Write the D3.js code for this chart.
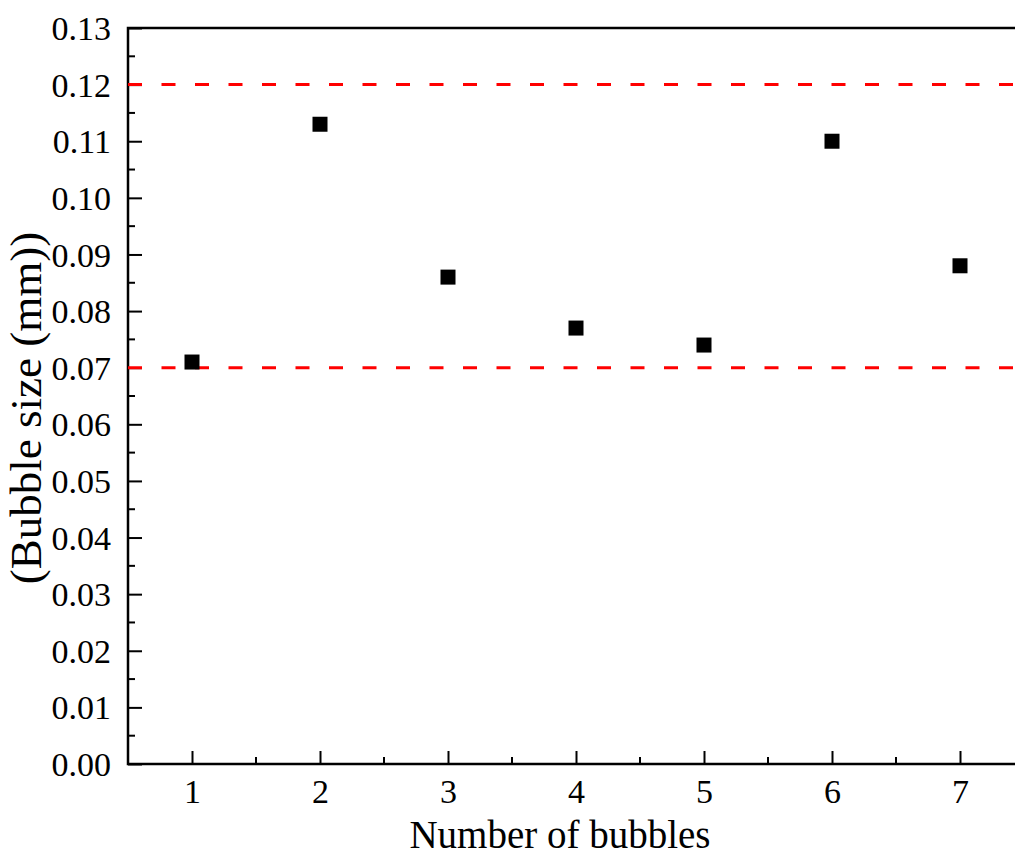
<!DOCTYPE html>
<html>
<head>
<meta charset="utf-8">
<script src="https://cdn.jsdelivr.net/npm/d3@7"></script>
<style>
  body { margin: 0; background: #fff; }
  svg text { font-family: "Liberation Serif", "Times New Roman", serif; fill: #000; }
  .tick text { font-size: 34px !important; }
</style>
</head>
<body>
<div id="canvas"></div>
<script>
// data
var bubbleCounts = [1, 2, 3, 4, 5, 6, 7];
var bubbleSizes = [0.071, 0.113, 0.086, 0.077, 0.074, 0.110, 0.088];
var limitLines = [0.07, 0.12];
var yTickValues = [0, 0.01, 0.02, 0.03, 0.04, 0.05, 0.06, 0.07, 0.08, 0.09, 0.10, 0.11, 0.12, 0.13];
var xTickValues = [1, 2, 3, 4, 5, 6, 7];

var outerWidth = 1015, outerHeight = 855;
var m = {t:28, r:0, b:91, l:128};
var w = outerWidth - m.l - m.r,
    h = outerHeight - m.t - m.b;

var svg = d3.select('#canvas')
    .append('svg')
    .attr('width', outerWidth)
    .attr('height', outerHeight);

var plot = svg.append('g')
    .attr('transform', 'translate(' + m.l + ',' + m.t + ')');

var x = d3.scaleLinear().domain([0.5, 7.5]).range([0, 896]);
var y = d3.scaleLinear().domain([0, 0.13]).range([h, 0]);

// minor ticks
var yMinor = d3.range(0.005, 0.13, 0.01);
var xMinor = d3.range(1.5, 7.5, 1);

plot.selectAll('.yminor').data(yMinor).enter().append('line')
    .attr('x1', 0).attr('x2', 7)
    .attr('y1', function(d){ return y(d); }).attr('y2', function(d){ return y(d); })
    .attr('stroke', '#000').attr('stroke-width', 2);
plot.selectAll('.xminor').data(xMinor).enter().append('line')
    .attr('y1', h).attr('y2', h - 7)
    .attr('x1', function(d){ return x(d); }).attr('x2', function(d){ return x(d); })
    .attr('stroke', '#000').attr('stroke-width', 2);

// y axis, ticks pointing inward
var yAxis = plot.append('g')
    .call(d3.axisRight(y).tickValues(yTickValues).tickSize(14).tickFormat(d3.format('.2f')))
    .attr('font-size', 34).attr('font-family', null);
yAxis.select('.domain').remove();
yAxis.selectAll('line').attr('stroke-width', 2);
yAxis.selectAll('text')
    .attr('x', -17).attr('text-anchor', 'end').attr('dy', '0.34em');

var xAxis = plot.append('g')
    .attr('transform', 'translate(0,' + h + ')')
    .call(d3.axisTop(x).tickValues(xTickValues).tickSize(13).tickFormat(d3.format('d')))
    .attr('font-size', 34).attr('font-family', null);
xAxis.select('.domain').remove();
xAxis.selectAll('line').attr('stroke-width', 2);
xAxis.selectAll('text')
    .attr('y', 39).attr('dy', 0);

// frame (left, top, bottom)
plot.append('path')
    .attr('d', 'M' + x(7.5) + ',0H0V' + h + 'H' + x(7.5))
    .attr('fill', 'none').attr('stroke', '#000').attr('stroke-width', 2.5);

// red dashed limit lines
plot.selectAll('.limit').data(limitLines).enter().append('line')
    .attr('x1', 0).attr('x2', x(7.5))
    .attr('y1', function(d){ return y(d); }).attr('y2', function(d){ return y(d); })
    .attr('stroke', '#ff0000').attr('stroke-width', 3)
    .attr('stroke-dasharray', '14,19.5');

// points
var pts = bubbleCounts.map(function(c, i){ return {c:c, v:bubbleSizes[i]}; });
plot.selectAll('.pt').data(pts).enter().append('rect')
    .attr('x', function(d){ return x(d.c) - 7.5; })
    .attr('y', function(d){ return y(d.v) - 7.5; })
    .attr('width', 15).attr('height', 15)
    .attr('fill', '#000');

// axis titles
svg.append('text')
    .attr('x', 560).attr('y', 848)
    .attr('text-anchor', 'middle')
    .style('font-size', '39px')
    .text('Number of bubbles');

svg.append('text')
    .attr('transform', 'translate(41,408) rotate(-90)')
    .attr('text-anchor', 'middle')
    .style('font-size', '45px')
    .text('(Bubble size (mm))');
</script>
</body>
</html>
